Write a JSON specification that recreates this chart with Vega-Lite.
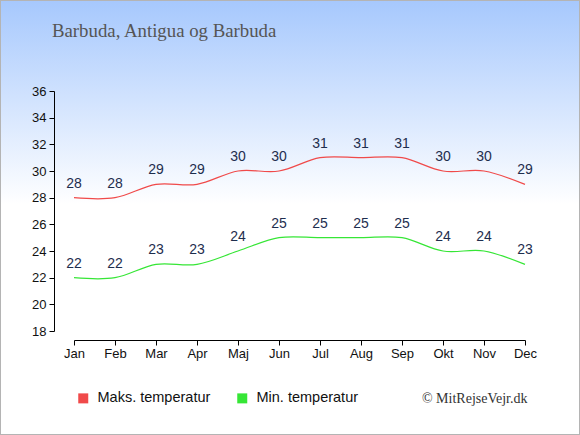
{
  "$schema": "https://vega.github.io/schema/vega-lite/v6.json",
  "width": 580,
  "height": 435,
  "padding": 0,
  "autosize": {"type": "none"},
  "background": "white",
  "title": {
    "text": "Barbuda, Antigua og Barbuda",
    "anchor": "start",
    "frame": "group",
    "font": "Liberation Serif",
    "fontSize": 18.8,
    "fontWeight": "normal",
    "color": "#555555",
    "baseline": "alphabetic",
    "offset": 0,
    "dx": 52,
    "dy": 56
  },
  "config": {
    "view": {
      "fill": {
        "gradient": "linear",
        "x1": 0, "y1": 0, "x2": 0, "y2": 1,
        "stops": [
          {"offset": 0, "color": "#a6c8fd"},
          {"offset": 0.47, "color": "#ffffff"},
          {"offset": 1, "color": "#ffffff"}
        ]
      },
      "stroke": "#b4b4b4",
      "strokeWidth": 2
    }
  },
  "data": {
    "values": [
      {"month": "Jan", "type": "Maks. temperatur", "temp": 28},
      {"month": "Feb", "type": "Maks. temperatur", "temp": 28},
      {"month": "Mar", "type": "Maks. temperatur", "temp": 29},
      {"month": "Apr", "type": "Maks. temperatur", "temp": 29},
      {"month": "Maj", "type": "Maks. temperatur", "temp": 30},
      {"month": "Jun", "type": "Maks. temperatur", "temp": 30},
      {"month": "Jul", "type": "Maks. temperatur", "temp": 31},
      {"month": "Aug", "type": "Maks. temperatur", "temp": 31},
      {"month": "Sep", "type": "Maks. temperatur", "temp": 31},
      {"month": "Okt", "type": "Maks. temperatur", "temp": 30},
      {"month": "Nov", "type": "Maks. temperatur", "temp": 30},
      {"month": "Dec", "type": "Maks. temperatur", "temp": 29},
      {"month": "Jan", "type": "Min. temperatur", "temp": 22},
      {"month": "Feb", "type": "Min. temperatur", "temp": 22},
      {"month": "Mar", "type": "Min. temperatur", "temp": 23},
      {"month": "Apr", "type": "Min. temperatur", "temp": 23},
      {"month": "Maj", "type": "Min. temperatur", "temp": 24},
      {"month": "Jun", "type": "Min. temperatur", "temp": 25},
      {"month": "Jul", "type": "Min. temperatur", "temp": 25},
      {"month": "Aug", "type": "Min. temperatur", "temp": 25},
      {"month": "Sep", "type": "Min. temperatur", "temp": 25},
      {"month": "Okt", "type": "Min. temperatur", "temp": 24},
      {"month": "Nov", "type": "Min. temperatur", "temp": 24},
      {"month": "Dec", "type": "Min. temperatur", "temp": 23}
    ]
  },
  "encoding": {
    "x": {
      "field": "month",
      "type": "ordinal",
      "sort": ["Jan","Feb","Mar","Apr","Maj","Jun","Jul","Aug","Sep","Okt","Nov","Dec"],
      "scale": {"type": "point", "range": [74, 525], "padding": 0},
      "axis": {
        "orient": "bottom",
        "offset": -95,
        "labelAngle": 0,
        "labelFont": "Liberation Sans",
        "labelFontSize": 13,
        "labelColor": "#111111",
        "labelPadding": 2,
        "tickSize": 5,
        "tickColor": "#000000",
        "domainColor": "#000000",
        "grid": false,
        "title": "© MitRejseVejr.dk",
        "titleFont": "Liberation Serif",
        "titleFontSize": 14,
        "titleFontWeight": "normal",
        "titleColor": "#333333",
        "titleX": 527,
        "titleY": 58,
        "titleAlign": "right",
        "titleBaseline": "middle",
        "titleAnchor": null
      }
    },
    "y": {
      "field": "temp",
      "type": "quantitative",
      "scale": {"domain": [18, 36], "range": [331, 91], "nice": false, "zero": false},
      "axis": {
        "orient": "left",
        "offset": -54,
        "values": [18,20,22,24,26,28,30,32,34,36],
        "labelFont": "Liberation Sans",
        "labelFontSize": 13,
        "labelColor": "#111111",
        "labelPadding": 3,
        "tickSize": 5,
        "tickColor": "#000000",
        "domainColor": "#000000",
        "grid": false,
        "title": null
      }
    },
    "color": {
      "field": "type",
      "type": "nominal",
      "scale": {"domain": ["Maks. temperatur", "Min. temperatur"], "range": ["#f04a4a", "#36e636"]},
      "legend": {
        "orient": "none",
        "legendX": 76,
        "legendY": 391,
        "direction": "horizontal",
        "title": null,
        "symbolType": "square",
        "symbolSize": 100,
        "symbolStrokeWidth": 0,
        "symbolOpacity": 1,
        "labelFont": "Liberation Sans",
        "labelFontSize": 14.5,
        "labelColor": "#111111",
        "labelOffset": 7,
        "columnPadding": 24,
        "encode": {
          "symbols": {
            "update": {
              "fill": {"field": "value", "scale": "color"},
              "fillOpacity": {"value": 1},
              "strokeWidth": {"value": 0}
            }
          }
        }
      }
    }
  },
  "layer": [
    {
      "mark": {"type": "line", "interpolate": "cardinal", "strokeWidth": 1.2}
    },
    {
      "mark": {"type": "text", "dy": -14, "baseline": "middle", "font": "Liberation Sans", "fontSize": 14, "color": "#1e2e4e"},
      "encoding": {
        "text": {"field": "temp", "type": "quantitative"},
        "color": {"value": "#1e2e4e"}
      }
    }
  ]
}
